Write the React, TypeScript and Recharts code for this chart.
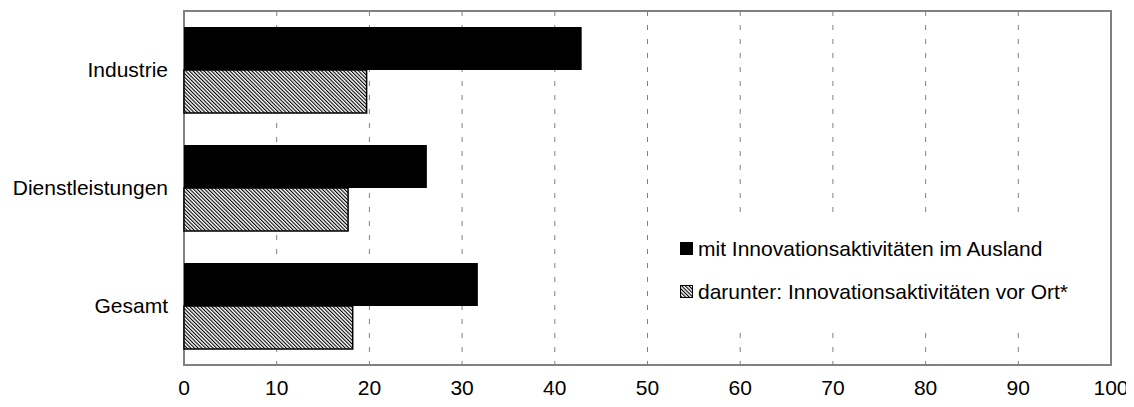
import React from "react";
import {
  BarChart,
  Bar,
  XAxis,
  YAxis,
  CartesianGrid,
  Legend,
  ReferenceArea,
} from "recharts";

const categories = ["Industrie", "Dienstleistungen", "Gesamt"];
const auslandValues = [42.9, 26.2, 31.7];
const vorOrtValues = [19.7, 17.7, 18.2];
const xTicks = [0, 10, 20, 30, 40, 50, 60, 70, 80, 90, 100];
const seriesNames = [
  "mit Innovationsaktivitäten im Ausland",
  "darunter: Innovationsaktivitäten vor Ort*",
];

const data = categories.map((name, i) => ({
  name,
  ausland: auslandValues[i],
  vorOrt: vorOrtValues[i],
}));

const FONT = "'Liberation Sans', Arial, sans-serif";
const FS = 21;

const HatchPattern = ({ id }: { id: string }) => (
  <pattern
    id={id}
    patternUnits="userSpaceOnUse"
    width="2.6"
    height="10"
    patternTransform="rotate(-45)"
  >
    <rect width="2.6" height="10" fill="#ffffff" />
    <rect width="1.1" height="10" fill="#000000" />
  </pattern>
);

const LegendContent = () => (
  <div style={{ fontFamily: FONT, fontSize: FS, color: "#000" }}>
    <div style={{ display: "flex", alignItems: "center", height: 43, paddingTop: 12 }}>
      <svg width="14" height="14" style={{ marginLeft: 10, marginRight: 4 }}>
        <rect x="0" y="0" width="13" height="13" fill="#000" />
      </svg>
      <span>{seriesNames[0]}</span>
    </div>
    <div style={{ display: "flex", alignItems: "center", height: 43 }}>
      <svg width="14" height="14" style={{ marginLeft: 10, marginRight: 4 }}>
        <defs>
          <HatchPattern id="hatchLegend" />
        </defs>
        <rect x="0.5" y="0.5" width="12" height="12" fill="url(#hatchLegend)" stroke="#000" strokeWidth="1" />
      </svg>
      <span>{seriesNames[1]}</span>
    </div>
  </div>
);

export default function App() {
  return (
    <div style={{ width: 1126, height: 399, fontFamily: FONT }}>
      <BarChart
        layout="vertical"
        width={1126}
        height={399}
        data={data}
        margin={{ top: 3, right: 23, bottom: 12, left: 0 }}
        barCategoryGap={16}
        barGap={0}
      >
        <defs>
          <HatchPattern id="hatchMain" />
        </defs>
        <CartesianGrid
          horizontal={false}
          vertical={true}
          stroke="#808080"
          strokeDasharray="5 9"
        />
        <XAxis
          type="number"
          domain={[0, 100]}
          ticks={xTicks}
          interval={0}
          axisLine={false}
          tickLine={false}
          tickMargin={9}
          height={30}
          tick={{ fill: "#000", fontSize: FS, fontFamily: FONT }}
        />
        <YAxis
          type="category"
          dataKey="name"
          width={176}
          axisLine={false}
          tickLine={false}
          tickMargin={10}
          tick={{ fill: "#000", fontSize: FS, fontFamily: FONT }}
        />
        <ReferenceArea
          x1={0}
          x2={100}
          fill="none"
          stroke="#808080"
          strokeWidth={2}
          ifOverflow="visible"
        />
        <Legend
          layout="vertical"
          align="center"
          verticalAlign="middle"
          content={<LegendContent />}
          wrapperStyle={{
            left: 662,
            top: 207,
            width: 428,
            height: 117,
            background: "#ffffff",
          }}
        />
        <Bar
          dataKey="ausland"
          name={seriesNames[0]}
          fill="#000000"
          isAnimationActive={false}
        />
        <Bar
          dataKey="vorOrt"
          name={seriesNames[1]}
          fill="url(#hatchMain)"
          stroke="#000000"
          strokeWidth={1.5}
          isAnimationActive={false}
        />
      </BarChart>
    </div>
  );
}
